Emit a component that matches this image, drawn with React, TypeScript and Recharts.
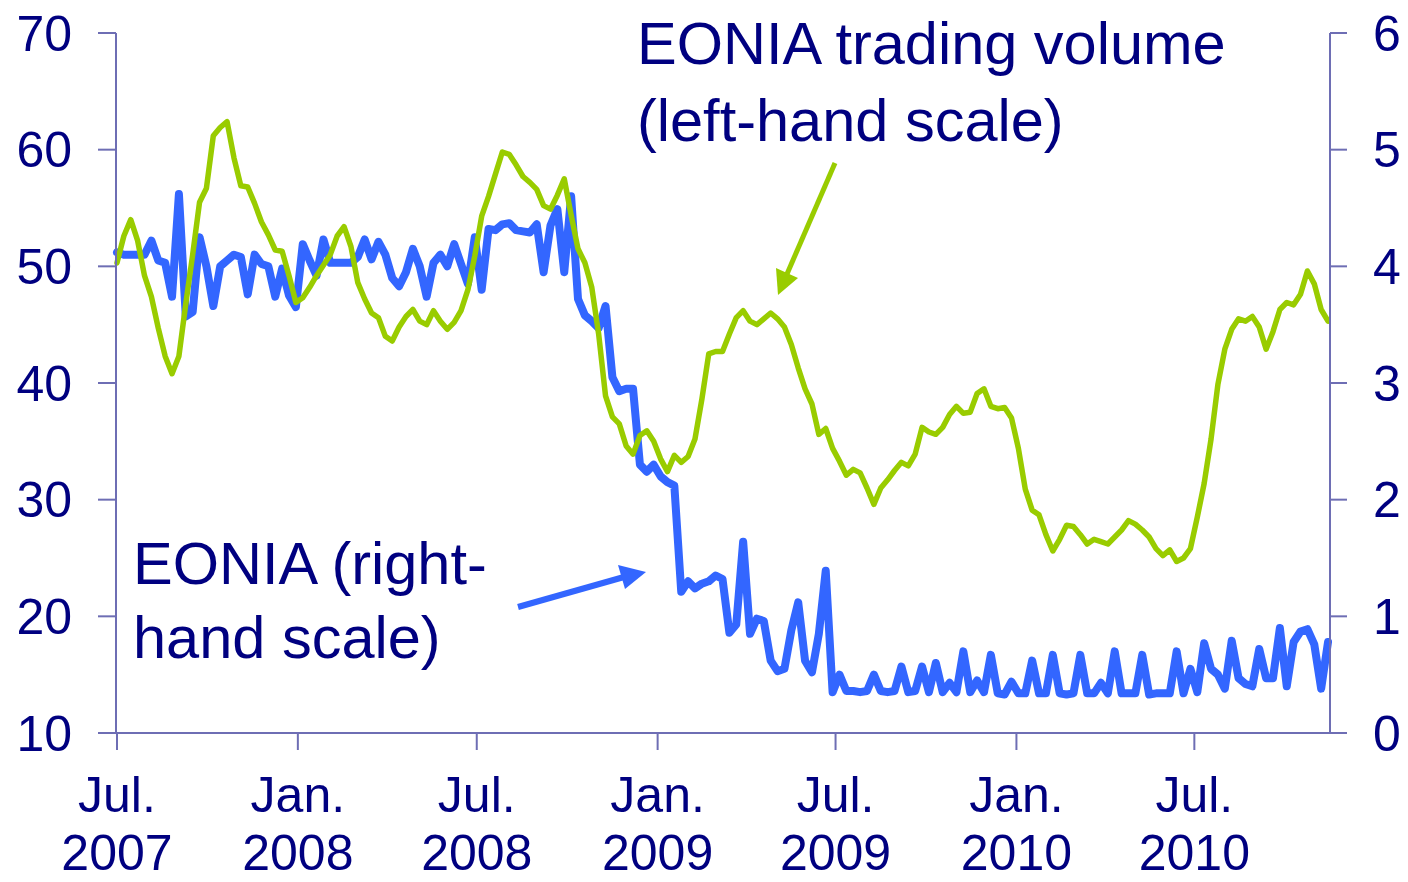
import React from 'react';
import { LineChart, Line, XAxis, YAxis } from 'recharts';

// weekly observations, first one on 2 July 2007
const STEP_DAYS = 7;

// EONIA trading volume, EUR bn (left-hand scale)
const volume = [
  50.3, 52.6, 54.0, 52.2, 49.2, 47.4, 44.7, 42.3, 40.8, 42.3,
  46.8, 51.0, 55.5, 56.7, 61.2, 61.9, 62.4, 59.3, 56.9, 56.8,
  55.4, 53.8, 52.7, 51.4, 51.3, 49.2, 46.9, 47.3, 48.2, 49.2,
  50.1, 51.0, 52.6, 53.4, 51.7, 48.6, 47.2, 46.0, 45.6, 44.0,
  43.6, 44.8, 45.7, 46.3, 45.3, 45.0, 46.2, 45.3, 44.6, 45.2,
  46.2, 48.0, 50.9, 54.3, 56.0, 57.9, 59.8, 59.6, 58.7, 57.7,
  57.2, 56.6, 55.2, 54.9, 56.1, 57.5, 54.4, 51.5, 50.3, 48.2,
  44.2, 38.9, 37.1, 36.5, 34.6, 33.9, 35.5, 35.9, 35.0, 33.5,
  32.4, 33.8, 33.2, 33.7, 35.2, 38.6, 42.5, 42.7, 42.7, 44.2,
  45.6, 46.2, 45.3, 45.0, 45.5, 46.0, 45.5, 44.8, 43.3, 41.3,
  39.5, 38.2, 35.6, 36.1, 34.4, 33.3, 32.1, 32.6, 32.3, 31.0,
  29.6, 31.0, 31.7, 32.5, 33.2, 32.9, 33.9, 36.2, 35.8, 35.6,
  36.2, 37.3, 38.0, 37.4, 37.5, 39.1, 39.5, 38.0, 37.8, 37.9,
  37.0, 34.4, 30.9, 29.1, 28.7, 27.0, 25.6, 26.6, 27.8, 27.7,
  27.0, 26.2, 26.6, 26.4, 26.2, 26.8, 27.4, 28.2, 27.9, 27.4,
  26.8, 25.8, 25.2, 25.7, 24.7, 25.0, 25.8, 28.5, 31.4, 35.2,
  39.9, 42.9, 44.6, 45.5, 45.3, 45.7, 44.8, 42.9, 44.4, 46.3,
  46.9, 46.7, 47.6, 49.6, 48.5, 46.3, 45.3,
];

// EONIA, % (right-hand scale)
const eonia = [
  4.12, 4.10, 4.10, 4.10, 4.10, 4.22, 4.05, 4.03, 3.74, 4.62,
  3.57, 3.61, 4.25, 4.00, 3.66, 4.00, 4.05, 4.10, 4.08, 3.76,
  4.10, 4.02, 4.00, 3.74, 3.98, 3.75, 3.65, 4.19, 4.05, 3.92,
  4.23, 4.03, 4.03, 4.03, 4.03, 4.08, 4.23, 4.06, 4.21, 4.10,
  3.90, 3.83, 3.95, 4.15, 4.00, 3.74, 4.03, 4.10, 4.00, 4.19,
  4.02, 3.85, 4.25, 3.80, 4.32, 4.31, 4.36, 4.37, 4.31, 4.30,
  4.29, 4.36, 3.95, 4.35, 4.49, 3.95, 4.60, 3.72, 3.58, 3.53,
  3.47, 3.66, 3.05, 2.93, 2.95, 2.95, 2.30, 2.24, 2.30, 2.20,
  2.15, 2.12, 1.21, 1.30, 1.24, 1.28, 1.30, 1.35, 1.32, 0.86,
  0.93, 1.64, 0.85, 0.98, 0.96, 0.62, 0.53, 0.55, 0.88, 1.12,
  0.62, 0.52, 0.85, 1.39, 0.35, 0.50, 0.36, 0.36, 0.35, 0.36,
  0.50, 0.36, 0.35, 0.36, 0.57, 0.35, 0.36, 0.57, 0.35, 0.60,
  0.35, 0.43, 0.35, 0.70, 0.35, 0.45, 0.35, 0.67, 0.34, 0.33,
  0.44, 0.34, 0.34, 0.62, 0.34, 0.34, 0.67, 0.34, 0.33, 0.34,
  0.67, 0.34, 0.34, 0.43, 0.34, 0.70, 0.34, 0.34, 0.34, 0.67,
  0.33, 0.34, 0.34, 0.34, 0.70, 0.34, 0.55, 0.35, 0.77, 0.55,
  0.50, 0.38, 0.79, 0.47, 0.42, 0.40, 0.72, 0.47, 0.47, 0.90,
  0.40, 0.78, 0.87, 0.89, 0.76, 0.38, 0.78,
];

// days since 1 July 2007
const tickDays = [0, 184, 366, 550, 731, 915, 1096];
const tickMonths = ['Jul.', 'Jan.', 'Jul.', 'Jan.', 'Jul.', 'Jan.', 'Jul.'];
const tickYears = ['2007', '2008', '2008', '2009', '2009', '2010', '2010'];
const leftTicks = [10, 20, 30, 40, 50, 60, 70];
const rightTicks = [0, 1, 2, 3, 4, 5, 6];

const data = volume.map((v, i) => ({ day: i * STEP_DAYS, volume: v, eonia: eonia[i] }));

const NAVY = '#000080';
const AXIS = '#6E6EB4';
const BLUE = '#3366FF';
const GREEN = '#99CC00';
const FONT = '"Liberation Sans", Arial, sans-serif';

const DateTick = (props: any) => {
  const { x, y, payload } = props;
  const idx = tickDays.indexOf(payload.value);
  return (
    <text x={x} y={y} textAnchor="middle" fill={NAVY} fontSize={50} fontFamily={FONT}>
      <tspan x={x} y={y + 60}>{tickMonths[idx]}</tspan>
      <tspan x={x} y={y + 118}>{tickYears[idx]}</tspan>
    </text>
  );
};

const Annotations = () => (
  <svg
    width={1408}
    height={882}
    style={{ position: 'absolute', left: 0, top: 0, pointerEvents: 'none' }}
  >
    <g fill={NAVY} fontSize={59.5} fontFamily={FONT}>
      <text x={637} y={64}>EONIA trading volume</text>
      <text x={637} y={141}>(left-hand scale)</text>
      <text x={133} y={584}>EONIA (right-</text>
      <text x={133} y={658}>hand scale)</text>
    </g>
    {/* arrow to the volume line */}
    <line x1={835} y1={163} x2={787} y2={274} stroke={GREEN} strokeWidth={5} />
    <polygon points="778,295 798,278 776,268" fill={GREEN} />
    {/* arrow to the EONIA line */}
    <line x1={518} y1={607} x2={624} y2={577} stroke={BLUE} strokeWidth={6} />
    <polygon points="646,572 618,565 625,589" fill={BLUE} />
  </svg>
);

export default function App() {
  return (
    <div style={{ position: 'absolute', left: 0, top: 0, width: 1408, height: 882, background: '#fff' }}>
      <LineChart
        width={1408}
        height={882}
        data={data}
        margin={{ top: 33, right: 0, bottom: 0, left: 0 }}
      >
        <XAxis
          dataKey="day"
          type="number"
          domain={[-1, 1234]}
          ticks={tickDays}
          tick={<DateTick />}
          tickSize={17}
          height={149}
          axisLine={{ stroke: AXIS, strokeWidth: 2 }}
          tickLine={{ stroke: AXIS, strokeWidth: 2 }}
          interval={0}
        />
        <YAxis
          yAxisId="left"
          orientation="left"
          domain={[10, 70]}
          ticks={leftTicks}
          width={116}
          tickSize={18}
          tickMargin={26}
          axisLine={{ stroke: AXIS, strokeWidth: 2 }}
          tickLine={{ stroke: AXIS, strokeWidth: 2 }}
          tick={{ fill: NAVY, fontSize: 50, fontFamily: FONT }}
          interval={0}
        />
        <YAxis
          yAxisId="right"
          orientation="right"
          domain={[0, 6]}
          ticks={rightTicks}
          width={78}
          tickSize={17}
          tickMargin={26}
          axisLine={{ stroke: AXIS, strokeWidth: 2 }}
          tickLine={{ stroke: AXIS, strokeWidth: 2 }}
          tick={{ fill: NAVY, fontSize: 50, fontFamily: FONT }}
          interval={0}
        />
        <Line
          yAxisId="right"
          type="linear"
          dataKey="eonia"
          stroke={BLUE}
          strokeWidth={8}
          strokeLinejoin="round"
          strokeLinecap="round"
          dot={false}
          isAnimationActive={false}
        />
        <Line
          yAxisId="left"
          type="linear"
          dataKey="volume"
          stroke={GREEN}
          strokeWidth={5.5}
          strokeLinejoin="round"
          strokeLinecap="round"
          dot={false}
          isAnimationActive={false}
        />
      </LineChart>
      <Annotations />
    </div>
  );
}
